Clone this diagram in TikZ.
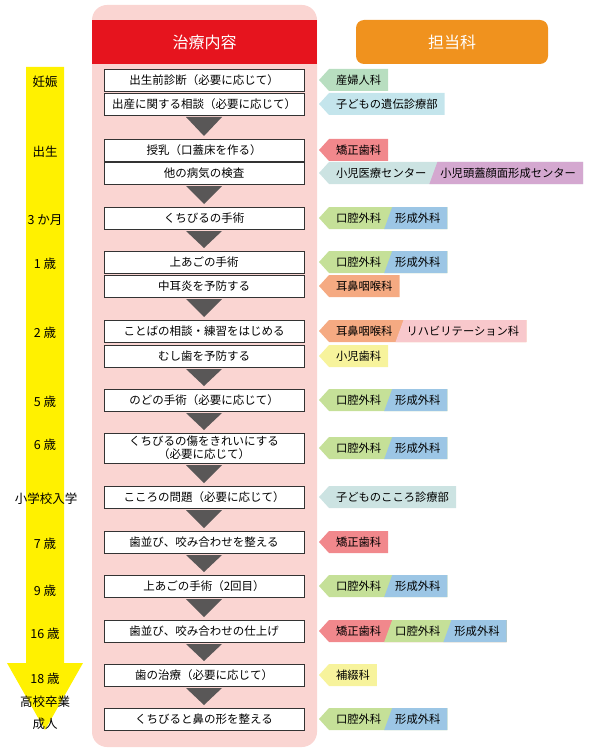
\documentclass[tikz,border=0pt]{standalone}
\usepackage{fontspec}
\setmainfont{Noto Sans CJK JP}
\usetikzlibrary{positioning, calc, backgrounds}
\definecolor{panelpink}{RGB}{250, 213, 210}
\definecolor{headred}{RGB}{230, 20, 30}
\definecolor{headorange}{RGB}{240, 146, 30}
\definecolor{timeyellow}{RGB}{255, 241, 0}
\definecolor{stepgray}{RGB}{89, 87, 87}
\definecolor{obstetcolor}{RGB}{184, 222, 192}
\definecolor{geneticcolor}{RGB}{196, 229, 236}
\definecolor{orthocolor}{RGB}{241, 136, 140}
\definecolor{childcolor}{RGB}{204, 227, 226}
\definecolor{craniocolor}{RGB}{212, 168, 208}
\definecolor{oralcolor}{RGB}{197, 224, 152}
\definecolor{plasticcolor}{RGB}{156, 198, 229}
\definecolor{entcolor}{RGB}{245, 170, 130}
\definecolor{rehabcolor}{RGB}{248, 200, 204}
\definecolor{dentcolor}{RGB}{247, 243, 156}
\tikzset{
    % Base styles
    stepbox/.style={
        draw=black!80, line width=0.9pt, fill=white, align=center,
        font=\fontsize{11.5}{13}\selectfont,
        minimum width=200pt, minimum height=22pt, inner ysep=0pt, outer sep=0pt
    },
    deptlabel/.style={font=\fontsize{11.3}{13}\selectfont, inner xsep=7pt, inner ysep=0pt, outer sep=0pt, minimum height=22pt},
    agelabel/.style={font=\fontsize{12.5}{14}\selectfont, yshift=-2pt},
    headbox/.style={text=white, font=\fontsize{16}{18}\selectfont, minimum height=44pt},
}
% grey step triangle between two boxes
\newcommand{\stepdown}[2]{\fill[stepgray] ($(#1.south)+(-18,2)$) -- ($(#1.south)+(18,2)$) -- ($(#2.north)+(0,-3)$) -- cycle;}
% tag body with its point, and a slanted segment laid over it
\newcommand{\tagfill}[3]{\fill[#1] ($(#2.west)+(-10,0)$) -- (#2.north west) -- (#3.north east) -- (#3.south east) -- (#2.south west) -- cycle;}
\newcommand{\segfill}[3]{\fill[#1] ($(#2.north west)+(4,0)$) -- (#3.north east) -- (#3.south east) -- ($(#2.south west)+(-4,0)$) -- cycle;}

\begin{document}
\begin{tikzpicture}[x=1pt, y=-1pt]

\useasboundingbox (0,0) rectangle (595,754);

% Panel and headers
\fill[panelpink, rounded corners=15pt] (92,5) rectangle (317,747);
\node (treat) [headbox, fill=headred, minimum width=225pt] at (204.5,42) {治療内容};
\node (dept) [headbox, fill=headorange, rounded corners=8pt, minimum width=192pt] at (452,42) {担当科};

% Time line
\fill[timeyellow] (26,67) -- (64,67) -- (64,663) -- (83,663) -- (45,730) -- (7,663) -- (26,663) -- cycle;

% Treatment steps
\node (b1) [stepbox] at (204,80) {出生前診断（必要に応じて）};
\node (b2) [stepbox, below=2pt of b1] {出産に関する相談（必要に応じて）};
\node (b3) [stepbox, below=24pt of b2] {授乳（口蓋床を作る）};
\node (b4) [stepbox, below=1pt of b3] {他の病気の検査};
\node (b5) [stepbox, below=23pt of b4] {くちびるの手術};
\node (b6) [stepbox, below=22pt of b5] {上あごの手術};
\node (b7) [stepbox, below=2pt of b6] {中耳炎を予防する};
\node (b8) [stepbox, below=23pt of b7] {ことばの相談・練習をはじめる};
\node (b9) [stepbox, below=3pt of b8] {むし歯を予防する};
\node (b10) [stepbox, below=22pt of b9] {のどの手術（必要に応じて）};
\node (b11) [stepbox, below=22pt of b10, minimum height=30pt] {くちびるの傷をきれいにする\\（必要に応じて）};
\node (b12) [stepbox, below=23pt of b11] {こころの問題（必要に応じて）};
\node (b13) [stepbox, below=23pt of b12] {歯並び、咬み合わせを整える};
\node (b14) [stepbox, below=22pt of b13] {上あごの手術（2回目）};
\node (b15) [stepbox, below=23pt of b14] {歯並び、咬み合わせの仕上げ};
\node (b16) [stepbox, below=22pt of b15] {歯の治療（必要に応じて）};
\node (b17) [stepbox, below=22pt of b16] {くちびると鼻の形を整える};

% Steps
\stepdown{b2}{b3}
\stepdown{b4}{b5}
\stepdown{b5}{b6}
\stepdown{b7}{b8}
\stepdown{b9}{b10}
\stepdown{b10}{b11}
\stepdown{b11}{b12}
\stepdown{b12}{b13}
\stepdown{b13}{b14}
\stepdown{b14}{b15}
\stepdown{b15}{b16}
\stepdown{b16}{b17}

% Ages
\node (a1) [agelabel] at (45,80) {妊娠};
\node (a2) [agelabel] at (45,150) {出生};
\node (a3) [agelabel] at (45,218) {3 か月};
\node (a4) [agelabel] at (45,262) {1 歳};
\node (a5) [agelabel] at (45,331) {2 歳};
\node (a6) [agelabel] at (45,400) {5 歳};
\node (a7) [agelabel] at (45,443) {6 歳};
\node (a8) [agelabel] at (46,497) {小学校入学};
\node (a9) [agelabel] at (45,542) {7 歳};
\node (a10) [agelabel] at (45,589) {9 歳};
\node (a11) [agelabel] at (45,632) {16 歳};
\node (a12) [agelabel] at (45,677) {18 歳};
\node (a13) [agelabel] at (45,700) {高校卒業};
\node (a14) [agelabel] at (45,722) {成人};

% Departments
\node (k1) [deptlabel, right=25pt of b1] {産婦人科};
\node (k2) [deptlabel, right=25pt of b2] {子どもの遺伝診療部};
\node (k3) [deptlabel, right=25pt of b3] {矯正歯科};
\node (k4a) [deptlabel, right=25pt of b4] {小児医療センター};
\node (k4b) [deptlabel, right=0pt of k4a] {小児頭蓋顔面形成センター};
\node (k5a) [deptlabel, right=25pt of b5] {口腔外科};
\node (k5b) [deptlabel, right=0pt of k5a] {形成外科};
\node (k6a) [deptlabel, right=25pt of b6] {口腔外科};
\node (k6b) [deptlabel, right=0pt of k6a] {形成外科};
\node (k7) [deptlabel, right=25pt of b7] {耳鼻咽喉科};
\node (k8a) [deptlabel, right=25pt of b8] {耳鼻咽喉科};
\node (k8b) [deptlabel, right=0pt of k8a] {リハビリテーション科};
\node (k9) [deptlabel, right=25pt of b9] {小児歯科};
\node (k10a) [deptlabel, right=25pt of b10] {口腔外科};
\node (k10b) [deptlabel, right=0pt of k10a] {形成外科};
\node (k11a) [deptlabel, right=25pt of b11] {口腔外科};
\node (k11b) [deptlabel, right=0pt of k11a] {形成外科};
\node (k12) [deptlabel, right=25pt of b12] {子どものこころ診療部};
\node (k13) [deptlabel, right=25pt of b13] {矯正歯科};
\node (k14a) [deptlabel, right=25pt of b14] {口腔外科};
\node (k14b) [deptlabel, right=0pt of k14a] {形成外科};
\node (k15a) [deptlabel, right=25pt of b15] {矯正歯科};
\node (k15b) [deptlabel, right=0pt of k15a] {口腔外科};
\node (k15c) [deptlabel, right=0pt of k15b] {形成外科};
\node (k16) [deptlabel, right=25pt of b16] {補綴科};
\node (k17a) [deptlabel, right=25pt of b17] {口腔外科};
\node (k17b) [deptlabel, right=0pt of k17a] {形成外科};

\begin{scope}[on background layer]
\tagfill{obstetcolor}{k1}{k1}
\tagfill{geneticcolor}{k2}{k2}
\tagfill{orthocolor}{k3}{k3}
\tagfill{childcolor}{k4a}{k4b}
\segfill{craniocolor}{k4b}{k4b}
\tagfill{oralcolor}{k5a}{k5b}
\segfill{plasticcolor}{k5b}{k5b}
\tagfill{oralcolor}{k6a}{k6b}
\segfill{plasticcolor}{k6b}{k6b}
\tagfill{entcolor}{k7}{k7}
\tagfill{entcolor}{k8a}{k8b}
\segfill{rehabcolor}{k8b}{k8b}
\tagfill{dentcolor}{k9}{k9}
\tagfill{oralcolor}{k10a}{k10b}
\segfill{plasticcolor}{k10b}{k10b}
\tagfill{oralcolor}{k11a}{k11b}
\segfill{plasticcolor}{k11b}{k11b}
\tagfill{childcolor}{k12}{k12}
\tagfill{orthocolor}{k13}{k13}
\tagfill{oralcolor}{k14a}{k14b}
\segfill{plasticcolor}{k14b}{k14b}
\tagfill{orthocolor}{k15a}{k15c}
\segfill{oralcolor}{k15b}{k15c}
\segfill{plasticcolor}{k15c}{k15c}
\tagfill{dentcolor}{k16}{k16}
\tagfill{oralcolor}{k17a}{k17b}
\segfill{plasticcolor}{k17b}{k17b}
\end{scope}

\end{tikzpicture}
\end{document}
